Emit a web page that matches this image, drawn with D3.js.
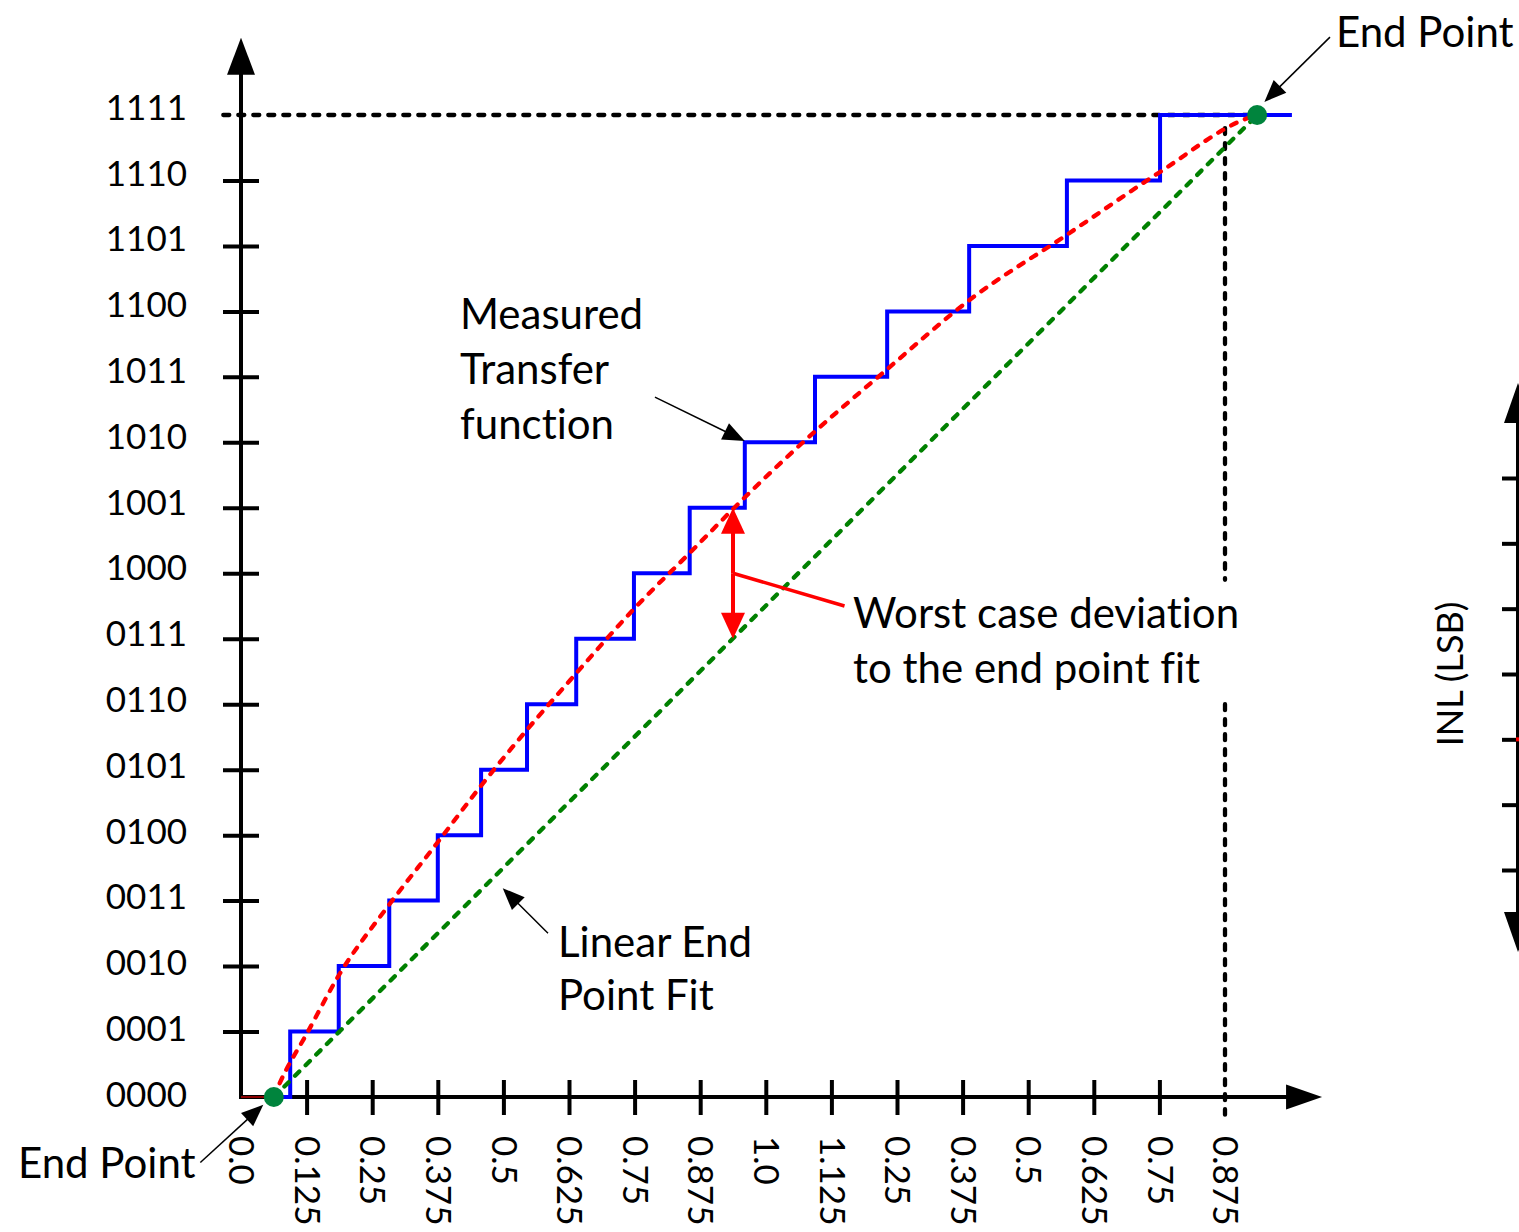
<!DOCTYPE html>
<html>
<head>
<meta charset="utf-8">
<script src="https://cdn.jsdelivr.net/npm/d3@7"></script>
<style>
  body { margin: 0; background: #fff; }
  text { font-family: Lato, "Open Sans", sans-serif; fill: #000; font-variant-ligatures: none; }
</style>
</head>
<body>
<svg id="chart" width="1519" height="1232"></svg>
<script>
// output codes (y axis) and analog input labels (x axis)
var codeLabels = ['0000', '0001', '0010', '0011', '0100', '0101', '0110', '0111',
  '1000', '1001', '1010', '1011', '1100', '1101', '1110', '1111'];
var inputLabels = ['0.0', '0.125', '0.25', '0.375', '0.5', '0.625', '0.75', '0.875',
  '1.0', '1.125', '0.25', '0.375', '0.5', '0.625', '0.75', '0.875'];

// measured transfer function: input (in LSB) where each code starts, last = end of line
var stepEdges = [0.5, 0.75, 1.49, 2.26, 3.0, 3.66, 4.36, 5.11, 5.99, 6.84, 7.68,
  8.75, 9.85, 11.10, 12.59, 14.01, 16.02];

// smooth curve through the measured characteristic (red dashed)
var bowCurve = [[0.5, 0], [0.59, 0.21], [1.01, 0.98], [1.51, 1.89], [2.23, 2.90],
  [2.99, 3.88], [3.64, 4.73], [4.36, 5.61], [5.02, 6.37], [6.08, 7.55], [6.84, 8.31],
  [7.67, 9.15], [8.61, 10.04], [9.83, 11.10], [11.10, 12.17], [12.59, 13.17],
  [14.01, 14.13], [15.34, 14.95], [15.49, 15]];

// end points of the straight fit
var endPoints = [[0.5, 0], [15.49, 15]];

// INL axis on the right (only its ticks are visible)
var inlTicks = [-3, -2, -1, 0, 1, 2, 3];

var svg = d3.select('#chart');

var x = d3.scaleLinear().domain([0, 15]).range([241, 1225]);
var y = d3.scaleLinear().domain([0, 15]).range([1097, 115]);
// code labels sit a little above their ticks, more so near the top
var yLabel = d3.scaleLinear().domain([0, 15]).range([1094, 107]);
var inl = d3.scaleLinear().domain([-3, 3]).range([870, 478]);

function arrow(g, p1, p2, headLen, headW, color, lineW) {
  var dx = p2[0] - p1[0], dy = p2[1] - p1[1];
  var len = Math.sqrt(dx * dx + dy * dy);
  var ux = dx / len, uy = dy / len;
  var bx = p2[0] - ux * headLen, by = p2[1] - uy * headLen;
  g.append('line')
    .attr('x1', p1[0]).attr('y1', p1[1])
    .attr('x2', bx + ux * 2).attr('y2', by + uy * 2)
    .attr('stroke', color).attr('stroke-width', lineW);
  g.append('path')
    .attr('d', 'M' + p2[0] + ',' + p2[1] +
      'L' + (bx - uy * headW / 2) + ',' + (by + ux * headW / 2) +
      'L' + (bx + uy * headW / 2) + ',' + (by - ux * headW / 2) + 'Z')
    .attr('fill', color);
}

// ---- main axes
var xAxis = d3.axisBottom(x)
  .tickValues(d3.range(0, 16))
  .tickFormat(function (d) { return inputLabels[d]; })
  .tickSizeOuter(0);
var gx = svg.append('g')
  .attr('transform', 'translate(0,' + y(0) + ')')
  .call(xAxis)
  .attr('font-family', null).attr('font-size', 35);
gx.select('.domain').remove();
gx.selectAll('.tick line')
  .attr('y1', -17).attr('y2', 18)
  .attr('stroke', '#000').attr('stroke-width', 4)
  .filter(function (d) { return d === 0 || d === 15; }).remove();
gx.selectAll('.tick text')
  .attr('transform', 'rotate(90)')
  .attr('x', 39).attr('y', 0).attr('dy', '0.35em')
  .attr('text-anchor', 'start');

var yAxis = d3.axisLeft(y)
  .tickValues(d3.range(0, 16))
  .tickFormat(function (d) { return codeLabels[d]; })
  .tickSizeOuter(0);
var gy = svg.append('g')
  .attr('transform', 'translate(' + x(0) + ',0)')
  .call(yAxis)
  .attr('font-family', null).attr('font-size', 35);
gy.select('.domain').remove();
gy.selectAll('.tick line')
  .attr('x1', -18).attr('x2', 18)
  .attr('stroke', '#000').attr('stroke-width', 4)
  .filter(function (d) { return d === 0 || d === 15; }).remove();
gy.selectAll('.tick text')
  .attr('x', -54)
  .attr('y', function (d) { return yLabel(d) - y(d); })
  .attr('dy', '0.35em')
  .attr('text-anchor', 'end');

var axes = svg.append('g');
arrow(axes, [x(0), y(0) + 2], [x(0), y(16.18)], 37, 28, '#000', 4);
arrow(axes, [x(0) - 2, y(0)], [x(16.48), y(0)], 36, 25, '#000', 4);

// dark red trace along the axis before the first transition
svg.append('line')
  .attr('x1', x(0)).attr('x2', x(stepEdges[1]))
  .attr('y1', y(0)).attr('y2', y(0))
  .attr('stroke', '#8b0000').attr('stroke-width', 2);

// ---- dotted guides to the full-scale end point
var guides = svg.append('g')
  .attr('stroke', '#000').attr('stroke-width', 4.3)
  .attr('stroke-dasharray', '6,9').attr('stroke-linecap', 'round').attr('fill', 'none');
guides.append('line')
  .attr('x1', x(-0.27)).attr('x2', x(endPoints[1][0]))
  .attr('y1', y(15)).attr('y2', y(15));
guides.append('line')
  .attr('x1', x(15)).attr('x2', x(15))
  .attr('y1', y(14.8)).attr('y2', y(7.9));
guides.append('line')
  .attr('x1', x(15)).attr('x2', x(15))
  .attr('y1', y(6.0)).attr('y2', y(-0.27));

// ---- measured staircase
var stairPts = stepEdges.map(function (e, i) { return [e, Math.min(i, 15)]; });
svg.append('path')
  .datum(stairPts)
  .attr('d', d3.line().x(function (d) { return x(d[0]); }).y(function (d) { return y(d[1]); })
    .curve(d3.curveStepAfter))
  .attr('fill', 'none').attr('stroke', '#0000ff').attr('stroke-width', 4);

// ---- end point fit and bowed characteristic
var line = d3.line().x(function (d) { return x(d[0]); }).y(function (d) { return y(d[1]); });
svg.append('path')
  .datum(endPoints)
  .attr('d', line)
  .attr('fill', 'none').attr('stroke', '#008000').attr('stroke-width', 4.3)
  .attr('stroke-dasharray', '6,9').attr('stroke-linecap', 'round');
svg.append('path')
  .datum(bowCurve)
  .attr('d', line.curve(d3.curveMonotoneX))
  .attr('fill', 'none').attr('stroke', '#ff0000').attr('stroke-width', 4.3)
  .attr('stroke-dasharray', '6,9').attr('stroke-linecap', 'round');

svg.selectAll('circle.end')
  .data(endPoints)
  .join('circle')
  .attr('class', 'end')
  .attr('cx', function (d) { return x(d[0]); })
  .attr('cy', function (d) { return y(d[1]); })
  .attr('r', 10)
  .attr('fill', '#00843d');

// ---- worst case deviation marker
var dev = svg.append('g');
arrow(dev, [x(7.5), y(8.0)], [x(7.5), y(9.0)], 26, 24, '#ff0000', 4);
arrow(dev, [x(7.5), y(8.0)], [x(7.5), y(7.0)], 26, 24, '#ff0000', 4);
dev.append('line')
  .attr('x1', x(7.5)).attr('y1', y(8.0))
  .attr('x2', x(9.2)).attr('y2', y(7.5))
  .attr('stroke', '#ff0000').attr('stroke-width', 3.5);

// ---- callout arrows
var callouts = svg.append('g');
arrow(callouts, [x(6.31), y(10.69)], [x(7.68), y(10.02)], 22, 18, '#000', 1.5);
arrow(callouts, [x(4.68), y(2.50)], [x(3.99), y(3.19)], 22, 18, '#000', 1.5);
arrow(callouts, [x(-0.62), y(-1.0)], [x(0.34), y(-0.12)], 22, 18, '#000', 1.5);
arrow(callouts, [x(16.6), y(16.19)], [x(15.6), y(15.2)], 22, 18, '#000', 1.5);

// ---- annotation text
var notes = [
  {t: 'End Point', x: 1336, y: 47},
  {t: 'End Point', x: 18, y: 1178},
  {t: 'Measured', x: 460, y: 329},
  {t: 'Transfer', x: 460, y: 384},
  {t: 'function', x: 460, y: 439},
  {t: 'Worst case deviation', x: 853, y: 628},
  {t: 'to the end point fit', x: 853, y: 683},
  {t: 'Linear End', x: 558, y: 957},
  {t: 'Point Fit', x: 558, y: 1010}
];
svg.append('g').selectAll('text')
  .data(notes)
  .join('text')
  .attr('x', function (d) { return d.x; })
  .attr('y', function (d) { return d.y; })
  .attr('font-size', 42)
  .text(function (d) { return d.t; });

// ---- INL axis on the right edge
var inlAxis = d3.axisLeft(inl).tickValues(inlTicks).tickFormat('').tickSize(16).tickSizeOuter(0);
var gi = svg.append('g')
  .attr('transform', 'translate(1518,0)')
  .call(inlAxis);
gi.select('.domain').remove();
gi.selectAll('.tick line').attr('stroke', '#000').attr('stroke-width', 4);
var inlG = svg.append('g');
arrow(inlG, [1518, inl(0)], [1518, inl(3) - 95], 40, 28, '#000', 4);
arrow(inlG, [1518, inl(0)], [1518, inl(-3) + 82], 40, 28, '#000', 4);
svg.append('line')
  .attr('x1', 1516).attr('x2', 1519)
  .attr('y1', inl(-1)).attr('y2', inl(-1))
  .attr('stroke', '#ff0000').attr('stroke-width', 4);
svg.append('text')
  .attr('transform', 'translate(1450,' + inl(0) + ') rotate(-90)')
  .attr('text-anchor', 'middle').attr('dy', '0.35em')
  .attr('font-size', 36)
  .text('INL (LSB)');
</script>
</body>
</html>
